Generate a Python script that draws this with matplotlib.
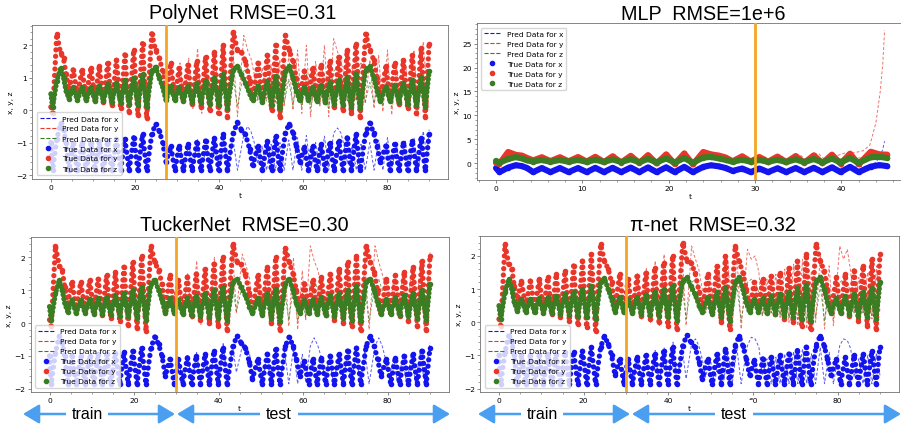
import matplotlib
matplotlib.use('Agg')
import matplotlib.pyplot as plt
import numpy as np
from matplotlib.lines import Line2D
from matplotlib.patches import FancyArrowPatch
from matplotlib.ticker import AutoMinorLocator

# ---------------- true trajectory (extrema) ----------------
T_TRUE = [0.0, 0.4, 1.4, 2.3, 3.0, 3.6, 4.3, 5.3, 6.3, 7.4, 8.4, 9.5, 10.5, 11.5, 12.5, 13.5, 14.5,
          15.6, 16.6, 17.6, 18.6, 19.7, 20.7, 21.8, 22.8, 24.0, 24.9, 25.8, 26.6, 27.4, 28.5, 29.5,
          30.5, 31.5, 32.6, 33.6, 34.7, 35.7, 36.8, 37.8, 38.9, 39.9, 41.0, 42.0, 43.4, 44.4, 45.3,
          46.3, 47.3, 48.0, 49.3, 50.3, 51.5, 52.5, 53.5, 54.5, 55.8, 56.7, 57.6, 58.4, 59.2, 60.3,
          61.3, 62.3, 63.3, 64.3, 65.3, 66.4, 67.4, 68.5, 69.5, 70.5, 71.5, 72.6, 73.6, 74.9, 75.9,
          76.8, 77.6, 78.4, 79.7, 80.7, 81.8, 82.8, 83.9, 84.9, 86.0, 87.0, 88.1, 89.1, 90.0]
Y_TRUE = [0.1, -0.1, 2.35, 1.75, 1.6, 1.1, 0.6, 1.25, 0.45, 1.25, 0.4, 1.3, 0.35, 1.35, 0.25, 1.45, 0.15,
          1.55, 0.05, 1.7, -0.05, 1.85, -0.15, 2.05, -0.25, 2.35, 1.85, 1.6, 1.2, 0.4, 1.45, 0.35,
          1.3, 0.3, 1.4, 0.2, 1.5, 0.1, 1.65, 0.0, 1.8, -0.1, 2.0, -0.2, 2.4, 1.85, 1.8,
          1.5, 0.9, 0.35, 1.45, 0.3, 1.7, 0.0, 2.0, -0.2, 2.3, 1.85, 1.5, 1.0, 0.4, 1.2,
          0.45, 1.3, 0.35, 1.4, 0.25, 1.5, 0.1, 1.65, 0.0, 1.85, -0.1, 2.05, -0.2, 2.35, 1.85,
          1.55, 1.0, 0.3, 1.35, 0.3, 1.45, 0.2, 1.55, 0.05, 1.7, -0.1, 1.9, -0.2, 2.05]
X_TRUE = [-1.0, -1.85, -0.9, -0.4, -0.6, -1.0, -1.85, -1.0, -1.85, -1.0, -1.85, -1.0, -1.85, -0.95, -1.85, -0.95, -1.85,
          -0.9, -1.85, -0.88, -1.85, -0.85, -1.85, -0.75, -1.85, -0.75, -0.42, -0.65, -1.0, -1.6, -1.1, -1.85,
          -1.1, -1.85, -1.05, -1.85, -1.0, -1.85, -0.95, -1.85, -0.85, -1.85, -0.75, -1.85, -0.7, -0.38, -0.6,
          -0.75, -1.2, -1.7, -1.1, -1.85, -0.95, -1.85, -0.8, -1.85, -0.7, -0.42, -0.7, -1.1, -1.6, -1.15,
          -1.85, -1.1, -1.85, -1.05, -1.85, -1.0, -1.85, -0.95, -1.85, -0.85, -1.85, -0.75, -1.85, -0.7, -0.4,
          -0.7, -1.1, -1.6, -1.1, -1.85, -1.05, -1.85, -1.0, -1.85, -0.95, -1.85, -0.85, -1.85, -0.75]
Z_TRUE = [0.5, 0.1, 0.9, 1.3, 1.0, 0.6, 0.35, 0.7, 0.3, 0.7, 0.3, 0.72, 0.28, 0.75, 0.27, 0.8, 0.25,
          0.85, 0.22, 0.92, 0.2, 1.0, 0.15, 1.1, 0.1, 1.2, 1.32, 1.0, 0.7, 0.3, 0.75, 0.3,
          0.7, 0.28, 0.75, 0.25, 0.82, 0.22, 0.9, 0.18, 1.0, 0.15, 1.1, 0.08, 1.25, 1.35, 1.1,
          0.85, 0.5, 0.3, 0.75, 0.25, 0.9, 0.15, 1.05, 0.05, 1.2, 1.35, 1.0, 0.6, 0.3, 0.7,
          0.3, 0.72, 0.28, 0.78, 0.25, 0.85, 0.2, 0.92, 0.15, 1.02, 0.1, 1.12, 0.05, 1.25, 1.35,
          1.0, 0.6, 0.28, 0.72, 0.28, 0.78, 0.25, 0.85, 0.2, 0.92, 0.15, 1.02, 0.1, 1.2]

# ---------------- PolyNet prediction (test part) ----------------
T_POLY = [27.4, 28.6, 29.6, 30.7, 31.7, 32.8, 33.8, 34.9, 35.9, 37.0, 38.0, 39.1, 40.1, 41.2, 42.2, 43.3,
          44.4, 45.9, 46.8, 47.6, 48.4, 49.2, 50.3, 51.3, 52.4, 53.4, 54.5, 55.5, 56.6, 57.6, 58.7,
          59.7, 60.8, 61.8, 63.0, 64.0, 65.1, 66.1, 67.3, 68.2, 69.0, 69.8, 70.6, 71.7, 72.7, 73.8,
          74.8, 75.9, 76.9, 78.0, 79.0, 80.1, 81.1, 82.2, 83.2, 84.3, 85.3, 86.4, 87.4, 88.6, 89.5, 90.0]
Y_POLY = [0.4, 1.5, 0.3, 1.45, 0.2, 1.6, 0.05, 1.9, -0.1, 1.45, 0.2, 1.6, 0.05, 1.75, -0.05, 1.9,
          -0.2, 2.3, 1.85, 1.6, 1.1, 0.35, 1.3, 0.35, 1.4, 0.25, 1.55, 0.1, 1.7, 0.0, 1.85,
          -0.1, 2.0, -0.2, 1.5, 0.1, 2.0, -0.2, 2.2, 1.8, 1.55, 1.0, 0.3, 1.35, 0.3, 1.45,
          0.2, 1.55, 0.05, 1.7, -0.05, 1.85, -0.15, 1.4, 0.2, 1.6, 0.0, 1.85, -0.2, 2.1, 0.6, 0.0]
X_POLY = [-1.6, -1.05, -1.85, -1.05, -1.85, -1.0, -1.85, -0.9, -1.85, -1.1, -1.85, -1.0, -1.85, -0.9, -1.85, -0.85,
          -1.85, -0.75, -0.5, -0.65, -1.0, -1.65, -1.1, -1.85, -1.05, -1.85, -1.0, -1.85, -0.92, -1.85, -0.85,
          -1.85, -0.78, -1.85, -1.0, -1.85, -0.8, -1.85, -0.7, -0.55, -0.7, -1.1, -1.65, -1.1, -1.85, -1.05,
          -1.85, -1.0, -1.85, -0.92, -1.85, -0.85, -1.85, -1.05, -1.85, -0.95, -1.85, -0.85, -1.85, -0.65, -1.4, -0.6]
Z_POLY = [0.3, 0.8, 0.28, 0.78, 0.25, 0.85, 0.2, 1.0, 0.15, 0.8, 0.25, 0.85, 0.2, 0.95, 0.15, 1.05,
          0.1, 1.2, 1.3, 1.0, 0.65, 0.3, 0.72, 0.28, 0.78, 0.25, 0.85, 0.2, 0.95, 0.15, 1.02,
          0.1, 1.1, 0.06, 0.85, 0.2, 1.1, 0.05, 1.2, 1.3, 1.0, 0.6, 0.28, 0.75, 0.28, 0.8,
          0.25, 0.85, 0.2, 0.95, 0.15, 1.02, 0.1, 0.8, 0.25, 0.9, 0.15, 1.0, 0.08, 1.15, 0.5, 0.4]

# ---------------- TuckerNet prediction (test part) ----------------
T_TUCK = [29.5, 30.5, 31.6, 32.7, 33.7, 34.8, 35.8, 36.9, 37.9, 39.0, 40.0, 41.1, 42.1, 43.3, 44.2, 45.6,
          46.6, 47.4, 48.2, 49.3, 50.3, 51.4, 52.4, 53.5, 54.5, 55.6, 56.6, 57.7, 58.7, 59.8, 60.6,
          61.7, 62.6, 63.5, 64.3, 65.1, 66.2, 67.2, 68.3, 69.3, 70.4, 71.4, 72.5, 73.5, 74.6, 75.6,
          77.0, 77.9, 78.7, 79.5, 80.3, 81.4, 82.4, 83.5, 84.5, 85.6, 86.6, 87.7, 88.7, 90.0]
Y_TUCK = [0.35, 1.3, 0.25, 1.5, 0.1, 1.9, -0.05, 1.45, 0.15, 2.0, -0.15, 1.7, -0.1, 2.25, 0.3, 2.1,
          1.7, 1.3, 0.3, 1.35, 0.3, 1.5, 0.1, 1.7, 0.0, 1.85, -0.1, 2.0, -0.2, 1.6, 0.1,
          2.35, 1.9, 1.6, 1.1, 0.35, 1.3, 0.35, 1.4, 0.2, 1.55, 0.05, 1.7, -0.1, 1.9, -0.2,
          2.35, 1.85, 1.5, 1.0, 0.3, 1.3, 0.3, 1.45, 0.15, 1.6, 0.0, 1.8, -0.15, 2.15]
X_TUCK = [-1.85, -1.1, -1.85, -1.0, -1.85, -0.9, -1.85, -1.05, -1.85, -0.8, -1.85, -0.6, -1.8, -0.7, -1.5, -0.7,
          -0.7, -1.0, -1.7, -1.1, -1.85, -1.0, -1.85, -0.92, -1.85, -0.85, -1.85, -0.78, -1.85, -0.95, -1.8,
          -0.7, -0.45, -0.7, -1.05, -1.65, -1.1, -1.85, -1.05, -1.85, -1.0, -1.85, -0.92, -1.85, -0.85, -1.85,
          -0.7, -0.45, -0.7, -1.1, -1.65, -1.1, -1.85, -1.05, -1.85, -0.95, -1.85, -0.85, -1.85, -0.6]
Z_TUCK = [0.3, 0.7, 0.28, 0.8, 0.2, 1.0, 0.15, 0.8, 0.22, 1.05, 0.1, 1.0, 0.1, 1.15, 0.35, 1.15,
          1.1, 0.7, 0.3, 0.75, 0.28, 0.82, 0.2, 0.95, 0.15, 1.0, 0.1, 1.1, 0.05, 0.9, 0.15,
          1.2, 1.33, 1.0, 0.65, 0.3, 0.72, 0.28, 0.78, 0.25, 0.85, 0.2, 0.95, 0.12, 1.05, 0.06,
          1.2, 1.33, 1.0, 0.6, 0.28, 0.72, 0.28, 0.8, 0.22, 0.88, 0.15, 1.0, 0.1, 1.15]

# ---------------- pi-net prediction (test part) ----------------
T_PI = [29.5, 30.5, 31.6, 32.7, 33.7, 34.8, 35.8, 36.9, 37.9, 39.0, 40.0, 41.1, 42.1, 43.2, 44.2, 45.5,
        46.4, 47.2, 48.0, 48.8, 49.9, 50.9, 52.0, 53.0, 54.1, 55.1, 56.2, 57.2, 58.7, 59.6, 60.5,
        61.4, 62.2, 63.3, 64.3, 65.4, 66.4, 67.5, 68.5, 69.6, 70.6, 71.7, 72.7, 73.8, 74.8, 75.9,
        76.9, 78.0, 79.0, 80.5, 81.4, 82.3, 83.1, 83.9, 85.0, 86.0, 87.1, 88.1, 89.2, 90.0]
Y_PI = [0.35, 1.3, 0.3, 1.5, 0.1, 1.65, 0.0, 1.85, -0.1, 2.05, -0.2, 1.5, 0.1, 2.2, -0.1, 2.3,
        1.9, 1.6, 1.0, 0.3, 1.4, 0.25, 1.6, 0.05, 1.8, -0.1, 2.0, -0.2, 2.2, 1.9, 2.0,
        1.5, 0.2, 1.3, 0.3, 1.45, 0.15, 1.6, 0.0, 1.75, -0.1, 1.9, -0.2, 1.55, 0.0, 2.0,
        -0.2, 1.7, -0.1, 2.3, 1.9, 2.2, 1.5, 0.3, 1.35, 0.3, 1.5, 0.1, 1.7, 0.3]
X_PI = [-1.85, -1.1, -1.85, -1.0, -1.85, -0.95, -1.85, -0.85, -1.85, -0.75, -1.85, -0.6, -1.8, -0.7, -1.7, -0.65,
        -0.5, -0.7, -1.1, -1.65, -1.1, -1.85, -1.0, -1.85, -0.88, -1.85, -0.78, -1.85, -0.7, -0.45, -0.5,
        -0.75, -1.6, -1.1, -1.85, -1.05, -1.85, -0.95, -1.85, -0.88, -1.85, -0.8, -1.85, -0.95, -1.85, -0.75,
        -1.85, -0.9, -1.85, -0.7, -0.5, -0.55, -0.8, -1.65, -1.1, -1.85, -1.0, -1.85, -0.92, -1.6]
Z_PI = [0.3, 0.7, 0.28, 0.8, 0.2, 0.9, 0.15, 1.0, 0.1, 1.1, 0.06, 0.9, 0.2, 1.15, 0.1, 1.2,
        1.3, 1.0, 0.6, 0.28, 0.75, 0.25, 0.88, 0.18, 1.0, 0.1, 1.1, 0.05, 1.2, 1.3, 1.2,
        0.9, 0.2, 0.72, 0.28, 0.8, 0.22, 0.88, 0.15, 0.96, 0.1, 1.05, 0.05, 0.9, 0.15, 1.1,
        0.05, 1.0, 0.1, 1.2, 1.3, 1.2, 0.9, 0.28, 0.75, 0.28, 0.82, 0.2, 0.95, 0.6]

# ---------------- MLP prediction (test part, blows up) ----------------
T_MLP = [30.0, 31.1, 32.1, 33.2, 34.2, 35.3, 36.3, 37.4, 38.4, 39.5, 40.5, 41.5, 42.5, 43.3, 44.0, 44.5, 44.8, 45.0]
Y_MLP = [0.5, 1.35, 0.25, 1.45, 0.15, 1.6, 0.1, 1.9, 0.2, 1.6, 2.2, 2.2, 2.6, 3.8, 8.5, 15.0, 21.0, 27.8]
X_MLP = [-1.6, -1.05, -1.85, -1.0, -1.85, -0.95, -1.9, -0.9, -1.8, -1.1, -0.9, -0.8, -0.7, -0.5, 0.2, 1.5, 3.0, 4.6]
Z_MLP = [0.3, 0.75, 0.25, 0.8, 0.2, 0.85, 0.2, 1.0, 0.3, 0.9, 1.0, 1.1, 1.1, 1.1, 1.2, 1.2, 1.0, 0.8]

TITLES = ["PolyNet  RMSE=0.31", "MLP  RMSE=1e+6", "TuckerNet  RMSE=0.30", "\u03c0-net  RMSE=0.32"]
SPLITS = [27.5, 30.0, 30.0, 30.0]
LEGEND_LABELS = ["Pred Data for x", "Pred Data for y", "Pred Data for z",
                 "True Data for x", "True Data for y", "True Data for z"]

C_X, C_Y, C_Z = '#1414ee', '#e8362a', '#3a7d22'
W, H = 901, 427
FS = 5.4

fig = plt.figure(figsize=(W / 100, H / 100), dpi=100)
plt.rcParams['font.family'] = ['DejaVu Sans']


def px_axes(l, r, t, b):
    return fig.add_axes([l / W, 1 - b / H, (r - l) / W, (b - t) / H])


def style(ax):
    for s in ax.spines.values():
        s.set_linewidth(0.6)
        s.set_color('0.45')
    ax.xaxis.set_minor_locator(AutoMinorLocator())
    ax.yaxis.set_minor_locator(AutoMinorLocator())
    ax.tick_params(which='major', labelsize=FS, length=2.2, width=0.5, pad=1.5, color='0.35')
    ax.tick_params(which='minor', length=1.2, width=0.4, color='0.35')
    ax.set_xlabel('t', fontsize=FS, labelpad=1.5)
    ax.set_ylabel('x, y, z', fontsize=FS, labelpad=1.5)


def draw(ax, tp, xp, yp, zp, tt, xt, yt, zt, split, loc, dense):
    for v, c in [(xp, C_X), (yp, C_Y), (zp, C_Z)]:
        ax.plot(tp, v, '--', color=c, lw=0.7, alpha=0.7, dashes=(3, 2))
    for v, c, gap in [(xt, C_X, 1.2), (yt, C_Y, 1.2), (zt, C_Z, 0.8)]:
        if dense:
            kw = dict(lw=4.4, solid_joinstyle='round', solid_capstyle='round')
        else:
            kw = dict(lw=3.8, ls=(0, (0.01, gap)), dash_capstyle='round')
        ax.plot(tt, v, color=c, **kw)
        ax.plot(tt, v, 'o', color=c, ms=4.0, mew=0)
    ax.axvline(split, color='#f5a623', lw=2.0, zorder=5)
    handles = [Line2D([], [], color=C_X, ls='--', lw=0.8),
               Line2D([], [], color=C_Y, ls='--', lw=0.8),
               Line2D([], [], color=C_Z, ls='--', lw=0.8),
               Line2D([], [], color=C_X, marker='o', ls='none', ms=3),
               Line2D([], [], color=C_Y, marker='o', ls='none', ms=3),
               Line2D([], [], color=C_Z, marker='o', ls='none', ms=3)]
    leg = ax.legend(handles, LEGEND_LABELS, loc=loc, fontsize=FS, framealpha=0.8,
                    borderaxespad=0.6, handlelength=2.2)
    leg.set_zorder(10)


tt = np.array(T_TRUE)
xt, yt, zt = np.array(X_TRUE), np.array(Y_TRUE), np.array(Z_TRUE)

ax1 = px_axes(32, 448, 26, 180)
draw(ax1, T_POLY, X_POLY, Y_POLY, Z_POLY, tt, xt, yt, zt, SPLITS[0], 'lower left', False)
ax1.set_xlim(-4.5, 94.5)
ax1.set_ylim(-2.12, 2.62)
style(ax1)

ax2 = px_axes(476.6, 904, 24, 181)
m = tt <= 45.3
draw(ax2, T_MLP, X_MLP, Y_MLP, Z_MLP, tt[m], xt[m], yt[m], zt[m], SPLITS[1], 'upper left', True)
ax2.set_xlim(-2.25, 47.25)
ax2.set_ylim(-3.5, 29.3)
style(ax2)

ax3 = px_axes(30.5, 449, 238, 393)
draw(ax3, T_TUCK, X_TUCK, Y_TUCK, Z_TUCK, tt, xt, yt, zt, SPLITS[2], 'lower left', False)
ax3.set_xlim(-4.5, 94.5)
ax3.set_ylim(-2.1, 2.62)
style(ax3)

ax4 = px_axes(480, 899, 237, 393)
draw(ax4, T_PI, X_PI, Y_PI, Z_PI, tt, xt, yt, zt, SPLITS[3], 'lower left', False)
ax4.set_xlim(-4.5, 94.5)
ax4.set_ylim(-2.1, 2.6)
style(ax4)

TFONT = ['Liberation Sans', 'DejaVu Sans']
for (cx, base), txt in zip([(243, 19), (703, 20), (244, 230.7), (712.5, 230.7)], TITLES):
    fig.text(cx / W, 1 - base / H, txt, ha='center', va='baseline', fontsize=14.2, family=TFONT)

ACOL = '#4a9ff0'
AY = 415
for (x0, x1) in [(23, 175), (177, 450), (478, 630), (632, 901)]:
    arr = FancyArrowPatch((x0 / W, 1 - AY / H), (x1 / W, 1 - AY / H), transform=fig.transFigure,
                          arrowstyle='<|-|>,head_length=0.7,head_width=0.42', mutation_scale=14,
                          color=ACOL, lw=1.8, shrinkA=0, shrinkB=0)
    fig.add_artist(arr)
for cx, txt in [(87, 'train'), (279, 'test'), (542, 'train'), (734, 'test')]:
    fig.text(cx / W, 1 - 419 / H, txt, ha='center', va='baseline', fontsize=11.5, family=TFONT,
             bbox=dict(boxstyle='square,pad=0.35', fc='white', ec='none'))

fig.savefig('out.png', dpi=100)
